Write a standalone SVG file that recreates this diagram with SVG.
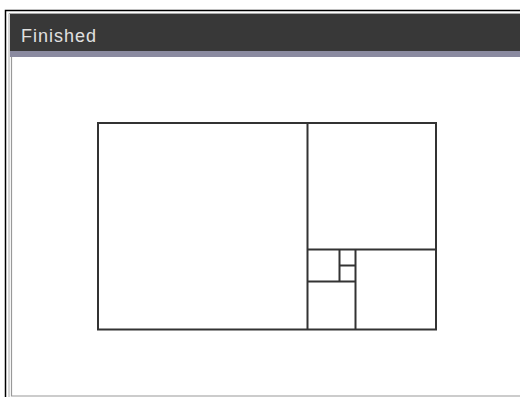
<svg xmlns="http://www.w3.org/2000/svg" width="520" height="397" viewBox="0 0 520 397">
<style>
.sq{fill:none;stroke:#333;stroke-width:2}
</style>
<rect width="520" height="397" fill="#fff"/>
<g id="frame">
<path d="M5.5,397 V10.5 H520" fill="none" stroke="#000" stroke-width="1.5"/>
<path d="M9,397 V13.5 H520" fill="none" stroke="#aaa" stroke-width="1"/>
<rect x="10" y="14" width="510" height="37" fill="#383838"/>
<rect x="10" y="51" width="510" height="6" fill="#8a8aa0"/>
<path d="M11.5,57 V396 H520" fill="none" stroke="#999" stroke-width="1.2"/>
<text x="21" y="41.5" font-family="Liberation Sans, Arial, sans-serif" font-size="18" letter-spacing="1" fill="#e0e0e0">Finished</text>
</g>
<g id="squares">
<rect id="outer" class="sq" x="98" y="123" width="338" height="206.5"/>
<path id="s1" class="sq" d="M307.5,123 V329.5"/>
<path id="s2" class="sq" d="M307.5,249.5 H436"/>
<path id="s3" class="sq" d="M355.5,249.5 V329.5"/>
<path id="s4" class="sq" d="M307.5,281.5 H355.5"/>
<path id="s5" class="sq" d="M339.5,249.5 V281.5"/>
<path id="s6" class="sq" d="M339.5,265.5 H355.5"/>
</g>
</svg>
